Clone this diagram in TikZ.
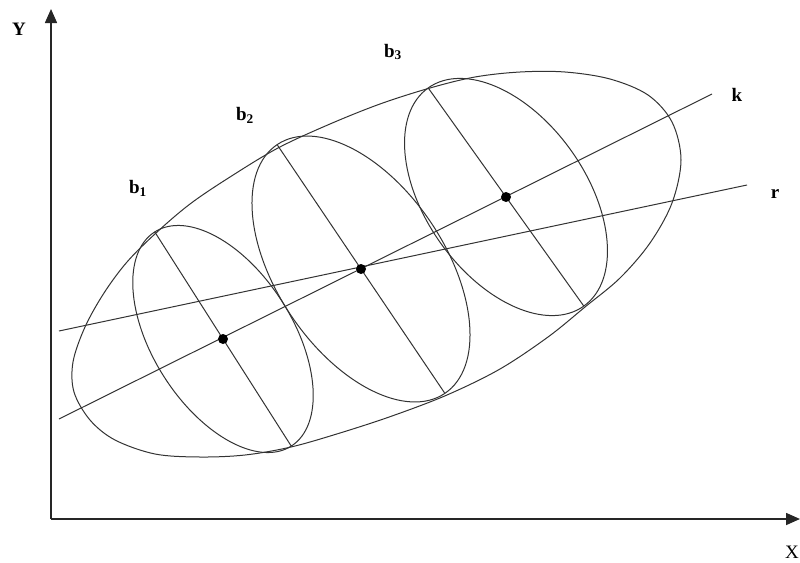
\documentclass[tikz,border=0pt]{standalone}
\usepackage{fontspec}
\setmainfont{Liberation Serif}
\usetikzlibrary{arrows.meta}
\begin{document}
\begin{tikzpicture}[x=1pt,y=-1pt,
  curve/.style={line width=1pt, draw=black!80},
  axis/.style={line width=1.6pt, draw=black!85, -{Triangle[length=14pt,width=12pt]}},
  lbl/.style={font=\fontsize{19}{22}\selectfont\bfseries, inner sep=0pt},
  axlbl/.style={font=\fontsize{19}{22}\selectfont, inner sep=0pt},
  dot/.style={circle, fill=black, inner sep=0pt, minimum size=10pt}]
\useasboundingbox (0,0) rectangle (800,562);
% axes
\coordinate (O) at (51,519);
\coordinate (Ytip) at (51,9);
\coordinate (Xtip) at (800,519);
\draw[axis] (O) -- (Ytip);
\draw[axis] (O) -- (Xtip);
\node[lbl] (Y) at (19,29) {Y};
\node[axlbl] (X) at (792,552) {X};
% big egg-shaped curve
\draw[curve] plot[smooth cycle, tension=0.55] coordinates {
 (73,362) (74,392) (90,420) (115,440) (155,454) (200,457) (245,455)
 (291,447) (340,433) (392,416) (447,395) (500,369) (548,337) (585,307)
 (620,278) (650,243) (672,203) (681,160) (672,122) (648,95) (610,79)
 (565,72) (520,72) (475,77) (430,88) (380,104) (330,124) (278,148)
 (230,177) (190,204) (156,233) (127,262) (104,293) (85,327)};
% centres
\coordinate (c1) at (223,339);
\coordinate (c2) at (361,269);
\coordinate (c3) at (506,197);
% small ellipses with their major axes
\draw[curve, shift={(c1)}, rotate=-57.5] (0,0) ellipse [x radius=127, y radius=70] (-127,0) -- (127,0);
\draw[curve, shift={(c2)}, rotate=-56] (0,0) ellipse [x radius=150, y radius=84] (-150,0) -- (150,0);
\draw[curve, shift={(c3)}, rotate=-54.5] (0,0) ellipse [x radius=134, y radius=80] (-134,0) -- (134,0);
% lines k and r
\coordinate (k1) at (59,419);
\coordinate (k2) at (712,94);
\coordinate (r1) at (59,331);
\coordinate (r2) at (747,185);
\draw[curve] (k1) -- (k2);
\draw[curve] (r1) -- (r2);
\node[lbl] (k) at (737,95) {k};
\node[lbl] (r) at (775,194) {r};
% dots
\node[dot] (d1) at (c1) {};
\node[dot] (d2) at (c2) {};
\node[dot] (d3) at (c3) {};
% labels
\node[lbl] (b1) at (138,188) {b\textsubscript{1}};
\node[lbl] (b2) at (245,115) {b\textsubscript{2}};
\node[lbl] (b3) at (393,52) {b\textsubscript{3}};
\end{tikzpicture}
\end{document}
